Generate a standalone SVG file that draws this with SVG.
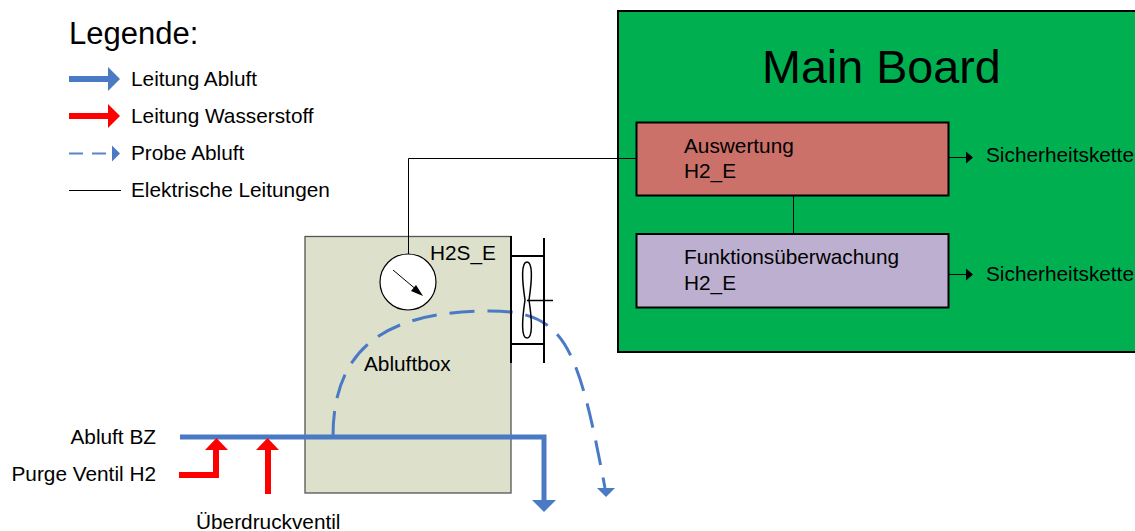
<svg xmlns="http://www.w3.org/2000/svg" width="1135" height="531" viewBox="0 0 1135 531">
<style>
text{font-family:"Liberation Sans",Arial,sans-serif;font-size:20.8px;fill:#000}
.box{stroke:#000;stroke-width:2}
.el{fill:none;stroke:#000;stroke-width:1}
.blue{fill:none;stroke:#4A7AC4;stroke-width:5}
.red{fill:none;stroke:#F00;stroke-width:6}
.bh{fill:#4A7AC4}.rh{fill:#F00}
.dash{fill:none;stroke:#4A7AC4;stroke-width:3;stroke-dasharray:25 13}
.fan{fill:none;stroke:#000;stroke-width:2}
</style>
<rect width="1135" height="531" fill="#fff"/>
<g id="main-board"><rect x="618" y="11" width="530" height="341" fill="#00B050" class="box"/><text x="762" y="83" style="font-size:46.700px">Main Board</text></g>
<g id="abluftbox"><rect x="305" y="236.500" width="206" height="256.500" fill="#DDE1CC" stroke="#555" stroke-width="1.300"/><text x="364" y="371">Abluftbox</text></g>
<g id="auswertung"><rect x="636.500" y="122.500" width="312" height="73" fill="#CC7169" class="box"/><text x="684" y="153">Auswertung</text><text x="684" y="178">H2_E</text></g>
<g id="funktion"><rect x="636.500" y="234" width="312" height="73.500" fill="#BDAFD0" class="box"/><text x="684" y="264">Funktionsüberwachung</text><text x="684" y="290">H2_E</text></g>
<g id="connectors">
<path class="el" d="M636 158.500H408.500V254M793.500 196V234M949 157.500H967M949 274.500H967"/>
<path d="M973 157.500l-7-6v12zM973 274.500l-7-6v12z"/>
<path class="dash" d="M333 436C333 345 390 311 490 311C565 311 578 345 605 488"/>
<path class="bh" d="M597 488H615L606 497Z"/>
<path class="blue" d="M180 437H544V500"/>
<path class="bh" d="M532 500H556L544 512Z"/>
<path class="red" d="M179 475H216V449M268 494V449"/>
<path class="rh" d="M205 450H228L216.500 438ZM256 450H279L267.500 438Z"/>
</g>
<g id="sensor"><circle cx="408" cy="282" r="28" fill="#fff" stroke="#000" stroke-width="1.200"/><path d="M393 270L418 291" stroke="#000" fill="none"/><path d="M423 296L411 291L416 285Z"/><text x="430" y="260">H2S_E</text></g>
<g id="fan"><path class="fan" d="M511 236V363M544 238V363M511 256H544M511 344H544"/><path class="el" d="M527 300.500H553" style="stroke-width:1.500"/><path class="fan" style="stroke-width:1.500" d="M527 262C533 262 532 280 529 300C532 320 533 338 527 338C521 338 522 320 525 300C522 280 521 262 527 262Z"/></g>
<g id="legend">
<text x="69" y="44" style="font-size:31px">Legende:</text>
<path class="blue" d="M69 79H109" style="stroke-width:6"/><path class="bh" d="M108 67L120 79L108 91Z"/><text x="131" y="86">Leitung Abluft</text>
<path class="red" d="M69 116H109"/><path class="rh" d="M108 104L120 116L108 128Z"/><text x="131" y="123">Leitung Wasserstoff</text>
<path d="M69 153.500H106" fill="none" stroke="#5A86C8" stroke-width="2" stroke-dasharray="14 9"/><path class="bh" d="M112 145.500L120 153.500L112 161.500Z"/><text x="131" y="160">Probe Abluft</text>
<path d="M69 190.500H121" class="el"/><text x="131" y="197">Elektrische Leitungen</text>
</g>
<g id="labels">
<text x="156" y="444" text-anchor="end">Abluft BZ</text>
<text x="156" y="481" text-anchor="end">Purge Ventil H2</text>
<text x="196" y="529">Überdruckventil</text>
<text x="986" y="162">Sicherheitskette</text>
<text x="986" y="281">Sicherheitskette</text>
</g>
</svg>
